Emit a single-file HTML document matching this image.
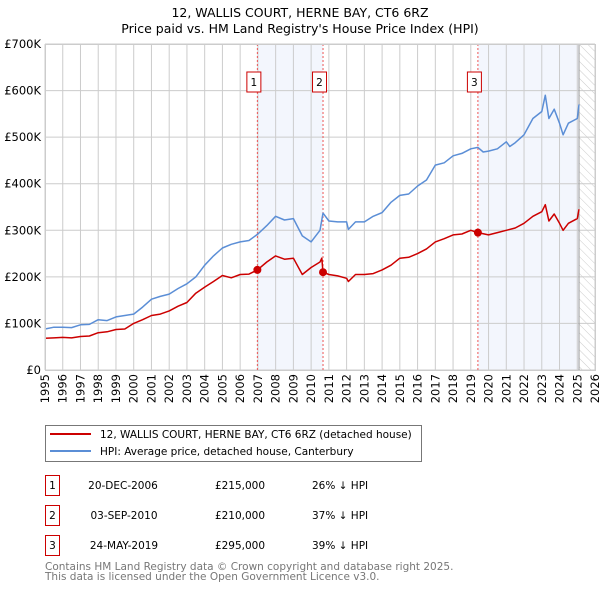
<!DOCTYPE html>
<html><head><meta charset="utf-8"><style>
body{margin:0;background:#fff;font-family:"Liberation Sans","DejaVu Sans",sans-serif;}
svg text{font-family:"DejaVu Sans","Liberation Sans",sans-serif;}
</style></head><body>
<svg id="c" width="600" height="590" xmlns="http://www.w3.org/2000/svg">
<defs><pattern id="hatch" width="6" height="6" patternUnits="userSpaceOnUse" patternTransform="rotate(-45)"><line x1="0" y1="0" x2="0" y2="6" stroke="#ccc" stroke-width="1"/></pattern></defs>
<text x="300" y="17" text-anchor="middle" font-size="12.5">12, WALLIS COURT, HERNE BAY, CT6 6RZ</text>
<text x="300" y="33" text-anchor="middle" font-size="12.5">Price paid vs. HM Land Registry's House Price Index (HPI)</text>
<g id="plot"></g>
<g>
<rect x="45.5" y="425.5" width="376" height="36" fill="#fff" stroke="#777"/>
<line x1="50" y1="434" x2="91" y2="434" stroke="#cc0000" stroke-width="2"/>
<text x="100" y="438" font-size="10.5">12, WALLIS COURT, HERNE BAY, CT6 6RZ (detached house)</text>
<line x1="50" y1="451" x2="91" y2="451" stroke="#5b8ed6" stroke-width="2"/>
<text x="100" y="455" font-size="10.5">HPI: Average price, detached house, Canterbury</text>
</g>
<g font-size="10.5">
<rect x="45.5" y="475.5" width="14" height="20" fill="#fff" stroke="#cc0000"/><text x="52.5" y="489" text-anchor="middle">1</text>
<text x="123" y="489" text-anchor="middle">20-DEC-2006</text><text x="240" y="489" text-anchor="middle">£215,000</text><text x="312" y="489">26% ↓ HPI</text>
<rect x="45.5" y="505.5" width="14" height="20" fill="#fff" stroke="#cc0000"/><text x="52.5" y="519" text-anchor="middle">2</text>
<text x="124" y="519" text-anchor="middle">03-SEP-2010</text><text x="240" y="519" text-anchor="middle">£210,000</text><text x="312" y="519">37% ↓ HPI</text>
<rect x="45.5" y="535.5" width="14" height="20" fill="#fff" stroke="#cc0000"/><text x="52.5" y="549" text-anchor="middle">3</text>
<text x="124" y="549" text-anchor="middle">24-MAY-2019</text><text x="240" y="549" text-anchor="middle">£295,000</text><text x="312" y="549">39% ↓ HPI</text>
</g>
<text x="45" y="570" font-size="10.5" fill="#777">Contains HM Land Registry data © Crown copyright and database right 2025.</text>
<text x="45" y="580" font-size="10.5" fill="#777">This data is licensed under the Open Government Licence v3.0.</text>
</svg>
<script>
const hpiYears=[1995,1995.5,1996,1996.5,1997,1997.5,1998,1998.5,1999,1999.5,2000,2000.5,2001,2001.5,2002,2002.5,2003,2003.5,2004,2004.5,2005,2005.5,2006,2006.5,2007,2007.5,2008,2008.5,2009,2009.5,2010,2010.5,2010.67,2011,2011.5,2012,2012.1,2012.5,2013,2013.5,2014,2014.5,2015,2015.5,2016,2016.5,2017,2017.5,2018,2018.5,2019,2019.4,2019.7,2020,2020.5,2021,2021.2,2021.5,2022,2022.5,2023,2023.2,2023.4,2023.7,2024,2024.2,2024.5,2025,2025.1];
const hpiValues=[88,92,92,91,97,98,108,106,114,117,120,135,152,158,163,175,185,200,225,245,262,270,275,278,292,310,330,322,325,288,275,300,337,320,318,318,302,318,318,330,338,360,375,378,395,408,440,445,460,465,475,478,468,470,475,490,480,488,505,540,555,590,540,560,530,505,530,540,570];
const ppYears=[1995,1995.5,1996,1996.5,1997,1997.5,1998,1998.5,1999,1999.5,2000,2000.5,2001,2001.5,2002,2002.5,2003,2003.5,2004,2004.5,2005,2005.5,2006,2006.5,2006.97,2007.5,2008,2008.5,2009,2009.5,2010,2010.5,2010.6,2010.67,2011,2011.5,2012,2012.1,2012.5,2013,2013.5,2014,2014.5,2015,2015.5,2016,2016.5,2017,2017.5,2018,2018.5,2019,2019.4,2020,2020.5,2021,2021.5,2022,2022.5,2023,2023.2,2023.4,2023.7,2024,2024.2,2024.5,2025,2025.1];
const ppValues=[68,69,70,69,72,73,80,82,87,88,100,108,117,120,127,137,145,165,178,190,203,198,205,206,215,232,245,238,240,205,220,232,240,210,205,202,197,190,205,205,207,215,225,240,242,250,260,275,282,290,292,300,295,290,295,300,305,315,330,340,355,320,335,315,300,315,325,345];
const saleYears=[2006.97,2010.67,2019.4];
const saleValues=[215,210,295];
const saleLabels=['1','2','3'];
const yTicks=[0,100,200,300,400,500,600,700];
const yTickLabels=['£0','£100K','£200K','£300K','£400K','£500K','£600K','£700K'];
const xTicks=[];for(let y=1995;y<=2026;y++)xTicks.push(y);

const L=45,R=595,T=44,B=370,X0=1995,X1=2026,YMAX=700;
const sx=v=>L+(v-X0)/(X1-X0)*(R-L);
const sy=v=>B-v/YMAX*(B-T);
const NS='http://www.w3.org/2000/svg';
const g=document.getElementById('plot');
function mk(tag,attrs,parent){const e=document.createElementNS(NS,tag);for(const k in attrs)e.setAttribute(k,attrs[k]);(parent||g).appendChild(e);return e;}

const s1=mk('rect',{x:sx(saleYears[0]),y:T,width:sx(saleYears[1])-sx(saleYears[0]),height:B-T,fill:'#f3f6fd'});


const s2=mk('rect',{x:sx(saleYears[2]),y:T,width:sx(2025.1)-sx(saleYears[2]),height:B-T,fill:'#f3f6fd'});


const hz=mk('rect',{x:sx(2025.1),y:T,width:R-sx(2025.1),height:B-T,fill:'url(#hatch)'});



yTicks.forEach((t,i)=>{
 const ln=mk('line',{x1:L,x2:R,y1:sy(t),y2:sy(t),stroke:'#ccc','stroke-width':1});
 
 
 const tx=mk('text',{x:L-4,y:sy(t)+4,'text-anchor':'end','font-size':11.5});
 tx.textContent=yTickLabels[i];
 
 
});
xTicks.forEach(t=>{
 const ln=mk('line',{x1:sx(t),x2:sx(t),y1:T,y2:B,stroke:'#ccc','stroke-width':1});
 
 
 const tx=mk('text',{x:0,y:0,'text-anchor':'end','font-size':11.5,transform:`translate(${sx(t)+4},${B+4}) rotate(-90)`});
 tx.textContent=t;
 
 
});
const vl=mk('line',{x1:sx(2025.1),x2:sx(2025.1),y1:T,y2:B,stroke:'#999','stroke-width':1});



saleYears.forEach((yr,i)=>{
 const ln=mk('line',{x1:sx(yr),x2:sx(yr),y1:T,y2:B,stroke:'#ee5555','stroke-width':1,'stroke-dasharray':'2,2'});
 
 
});

function line(xs,vs,color,name){
 const d=xs.map((x,i)=>(i?'L':'M')+sx(x).toFixed(1)+','+sy(vs[i]).toFixed(1)).join(' ');
 const p=mk('path',{d:d,fill:'none',stroke:color,'stroke-width':1.5,'stroke-linejoin':'round'});
 
 
}
line(hpiYears,hpiValues,'#5b8ed6','hpi-line');
line(ppYears,ppValues,'#cc0000','price-paid-line');

saleYears.forEach((yr,i)=>{
 const c=mk('circle',{cx:sx(yr),cy:sy(saleValues[i]),r:4,fill:'#cc0000'});
 
 
 const bx=mk('rect',{x:sx(yr)-10.5,y:72,width:14,height:20,fill:'#fff',stroke:'#cc0000'});
 
 
 const t=mk('text',{x:sx(yr)-3.5,y:86,'text-anchor':'middle','font-size':10.5});
 t.textContent=saleLabels[i];
 
 
});
const fr=mk('rect',{x:L+0.5,y:T+0.5,width:R-L,height:B-T,fill:'none',stroke:'#ccc'});


</script>
</body></html>
